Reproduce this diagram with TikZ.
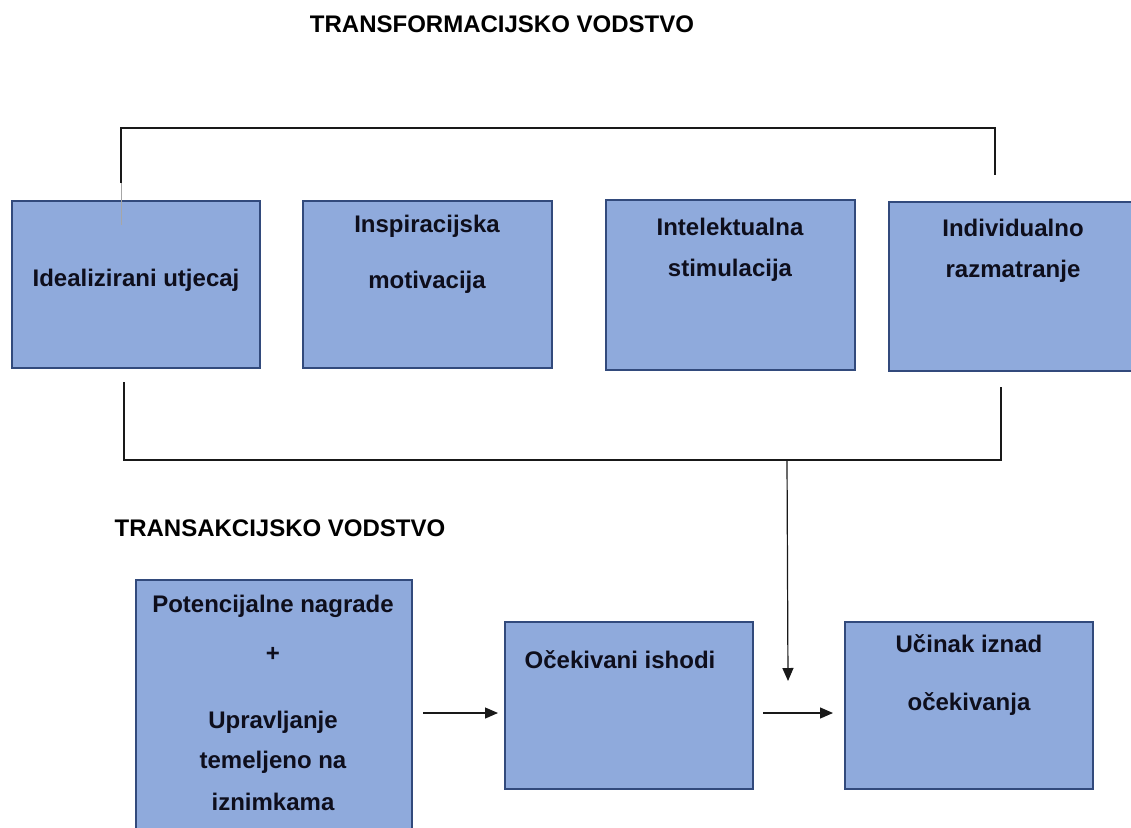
\documentclass[tikz,border=0pt]{standalone}
\usepackage{fontspec}
\setmainfont{Liberation Sans}
\usetikzlibrary{arrows.meta}
\definecolor{boxfill}{RGB}{143,170,220}
\definecolor{boxline}{RGB}{50,74,124}
\definecolor{txtc}{RGB}{14,14,28}
\definecolor{connc}{RGB}{25,25,25}
\begin{document}
\begin{tikzpicture}[x=1pt,y=-1pt,
  box/.style={draw=boxline, fill=boxfill, line width=2pt, inner sep=0pt, rectangle},
  lbl/.style={anchor=base, inner sep=0pt, font=\fontsize{24}{28}\selectfont\bfseries, text=txtc},
  ttl/.style={anchor=base, inner sep=0pt, font=\fontsize{24}{28}\selectfont\bfseries, text=black},
  conn/.style={draw=connc, line width=1.2pt},
  arr/.style={conn, -{Triangle[length=13pt,width=11pt]}},
  faint/.style={draw=gray!70, line width=0.9pt}]
\useasboundingbox (0,0) rectangle (1131,827);
\fill[white] (0,0) rectangle (1131,827);

% titles
\node[ttl] (tf) at (502,32) {TRANSFORMACIJSKO VODSTVO};
\node[ttl] (ta) at (280,536) {TRANSAKCIJSKO VODSTVO};

% top row boxes
\node[box, minimum width=248pt, minimum height=167pt] (b1) at (136,284.5) {};
\node[box, minimum width=249pt, minimum height=167pt] (b2) at (427.5,284.5) {};
\node[box, minimum width=249pt, minimum height=170pt] (b3) at (730.5,285) {};
\node[box, minimum width=250pt, minimum height=169pt] (b4) at (1014,286.5) {};

% bottom row boxes
\node[box, minimum width=276pt, minimum height=260pt] (b5) at (274,710) {};
\node[box, minimum width=248pt, minimum height=167pt] (b6) at (629,705.5) {};
\node[box, minimum width=248pt, minimum height=167pt] (b7) at (969,705.5) {};

% texts
\node[lbl] (t1) at (136,286) {Idealizirani utjecaj};
\node[lbl] (t2a) at (427,232) {Inspiracijska};
\node[lbl] (t2b) at (427,288) {motivacija};
\node[lbl] (t3a) at (730,235) {Intelektualna};
\node[lbl] (t3b) at (730,276) {stimulacija};
\node[lbl] (t4a) at (1013,236) {Individualno};
\node[lbl] (t4b) at (1013,277) {razmatranje};
\node[lbl] (t5a) at (273,612) {Potencijalne nagrade};
\node[lbl] (t5b) at (273,661) {+};
\node[lbl] (t5c) at (273,728) {Upravljanje};
\node[lbl] (t5d) at (273,768) {temeljeno na};
\node[lbl] (t5e) at (273,810) {iznimkama};
\node[lbl] (t6) at (620,668) {Očekivani ishodi};
\node[lbl] (t7a) at (969,652) {Učinak iznad};
\node[lbl] (t7b) at (969,710) {očekivanja};

% top bracket
\coordinate (tl) at (121,183);
\coordinate (tlf) at (121,225);
\coordinate (tlc) at (121,128);
\coordinate (trc) at (995,128);
\coordinate (tr) at (995,175);
\draw[conn] (tl) -- (tlc) -- (trc) -- (tr);
\draw[faint] (tl) -- (tlf);

% bottom bracket
\coordinate (bl) at (124,382);
\coordinate (br) at (1001,387);
\coordinate (bm) at (787,460);
\coordinate (da) at (788,681);
\draw[conn] (bl) |- (bm) -| (br);
\draw[arr] (bm) -- (da);

% horizontal arrows
\coordinate (a1s) at (423,713);
\coordinate (a1e) at (498,713);
\coordinate (a2s) at (763,713);
\coordinate (a2e) at (833,713);
\draw[arr] (a1s) -- (a1e);
\draw[arr] (a2s) -- (a2e);
\end{tikzpicture}
\end{document}
